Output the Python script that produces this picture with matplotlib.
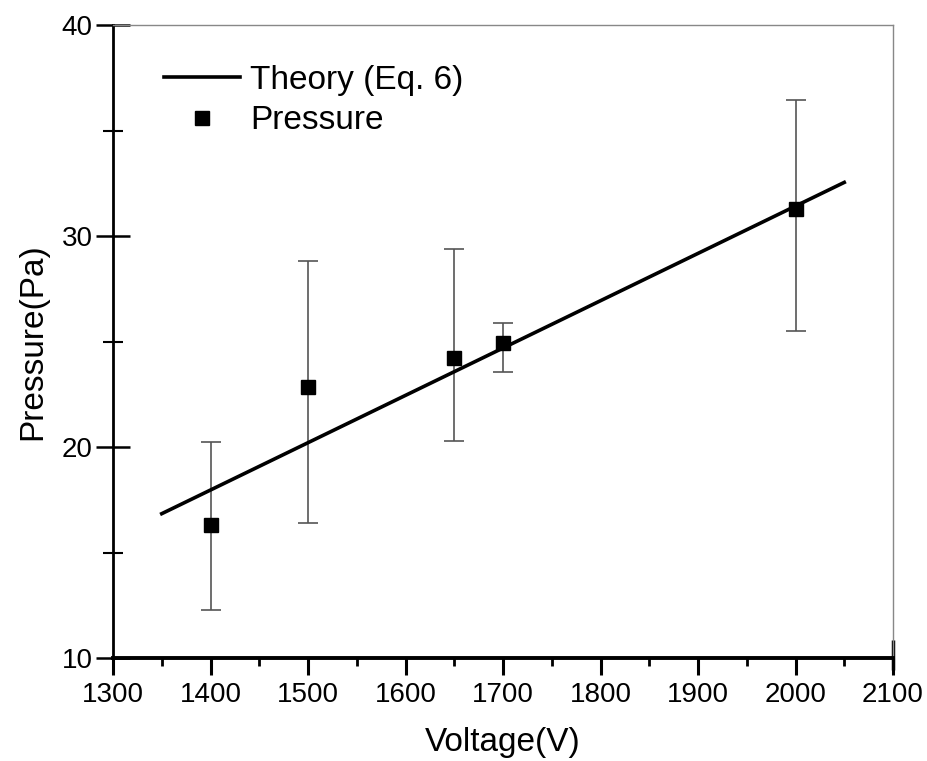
import matplotlib
matplotlib.use("Agg")
import matplotlib.pyplot as plt
from matplotlib.ticker import MultipleLocator

plt.rcParams['font.family'] = ['Liberation Sans', 'DejaVu Sans']

# Data
voltage = [1400, 1500, 1650, 1700, 2000]
pressure = [16.3, 22.83, 24.2, 24.94, 31.29]
err_upper = [20.24, 28.83, 29.37, 25.86, 36.43]
err_lower = [12.27, 16.38, 20.3, 23.57, 25.51]
theory_v = [1350, 2050]
theory_p = [16.84, 32.54]

xticks = [1300, 1400, 1500, 1600, 1700, 1800, 1900, 2000, 2100]
yticks = [10, 20, 30, 40]

fig = plt.figure(figsize=(9.28, 7.61), dpi=100)
ax = fig.add_axes([113/928, 1 - 658/761, 780/928, 633/761])

yerr = [[p - lo for p, lo in zip(pressure, err_lower)],
        [hi - p for p, hi in zip(pressure, err_upper)]]

ax.plot(theory_v, theory_p, color='black', lw=2.6, label='Theory (Eq. 6)', zorder=3)
ax.errorbar(voltage, pressure, yerr=yerr, fmt='none', ecolor='#555555',
            elinewidth=1.2, capsize=7, capthick=1.2, zorder=2)
ax.plot(voltage, pressure, 's', color='black', ms=9.5, ls='none',
        label='Pressure', zorder=4)

ax.set_xlim(1300, 2100)
ax.set_ylim(10, 40)
ax.set_xticks(xticks)
ax.set_yticks(yticks)
ax.xaxis.set_minor_locator(MultipleLocator(50))
ax.yaxis.set_minor_locator(MultipleLocator(5))

for s in ['top', 'right']:
    ax.spines[s].set_color('#888888')
    ax.spines[s].set_linewidth(1.0)
ax.spines['left'].set_linewidth(2.0)
ax.spines['bottom'].set_linewidth(2.8)

ax.tick_params(axis='x', which='major', direction='out', length=12, width=2.2,
               labelsize=20, pad=5)
ax.tick_params(axis='x', which='minor', direction='out', length=6, width=2.0)
ax.tick_params(axis='y', which='major', direction='inout', length=25, width=1.8,
               labelsize=20, pad=2)
ax.tick_params(axis='y', which='minor', direction='inout', length=14, width=1.5)
ax.tick_params(top=False, right=False, which='both')

# short thick mark at right end of x axis
ax.plot([1, 1], [-0.019, 0.028], transform=ax.transAxes, color='black',
        lw=2.5, clip_on=False, solid_capstyle='butt')

ax.set_xlabel('Voltage(V)', fontsize=24, labelpad=14)
ax.set_ylabel('Pressure(Pa)', fontsize=24, labelpad=10)

ax.legend(loc='upper left', bbox_to_anchor=(0.065, 0.937), frameon=False,
          fontsize=24, handlelength=2.3, handletextpad=0.3, labelspacing=0.28,
          borderaxespad=0, borderpad=0)

fig.savefig('out.png', dpi=100)
